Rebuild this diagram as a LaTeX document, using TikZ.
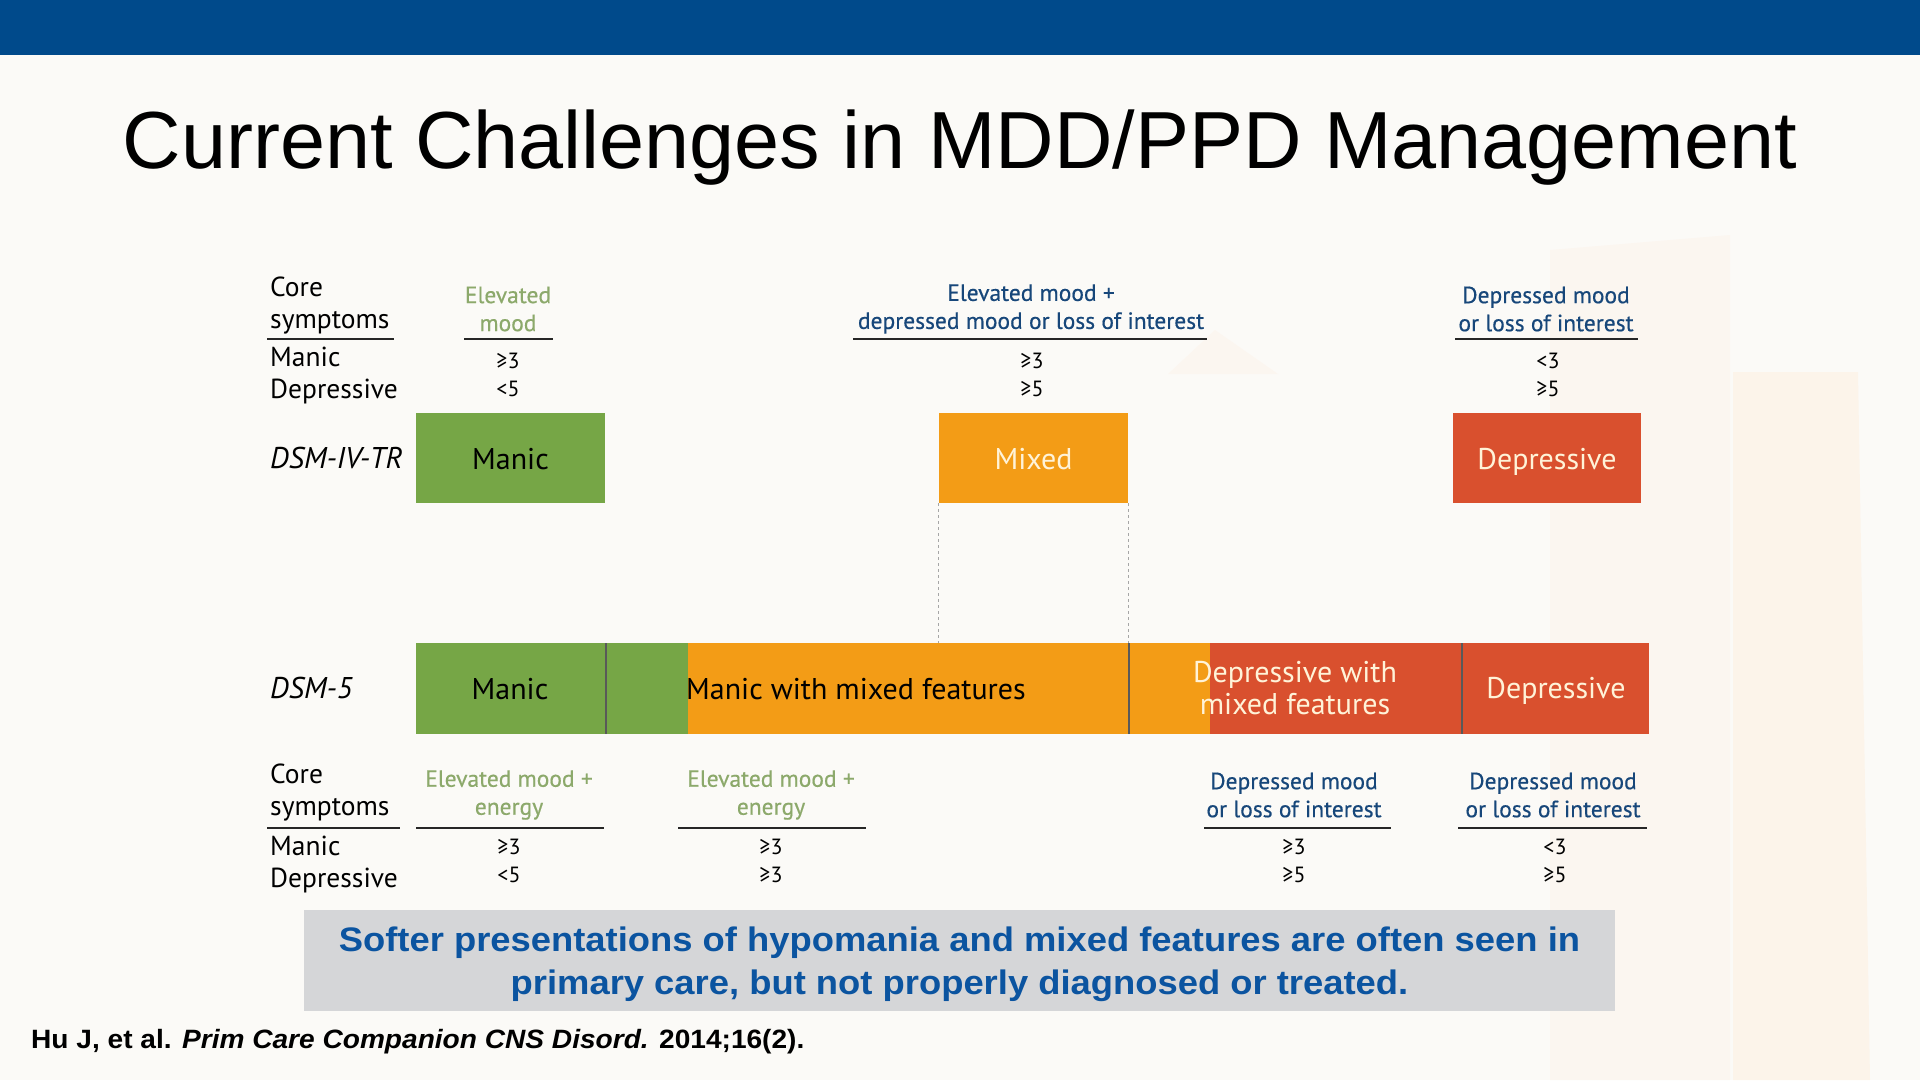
\documentclass[tikz,border=0pt]{standalone}
\usepackage{fontspec}
\setmainfont{PT Sans}
\newfontfamily\arialf{Liberation Sans}
\newfontfamily\msgfont{Liberation Sans}[FakeStretch=1.07]
\newfontfamily\citefont{Liberation Sans}[FakeStretch=1.06]
\newfontfamily\semib{PT Sans}[FakeBold=0.45]
\definecolor{topbar}{HTML}{004A8B}
\definecolor{bg}{HTML}{FBFAF7}
\definecolor{wm}{HTML}{FCF4EA}
\definecolor{wmb}{HTML}{FBF6F0}
\definecolor{mgreen}{HTML}{76A646}
\definecolor{morange}{HTML}{F39C16}
\definecolor{mred}{HTML}{D9502E}
\definecolor{tgreen}{HTML}{8CA96B}
\definecolor{tblue}{HTML}{17477A}
\definecolor{cream}{HTML}{FFF3D8}
\definecolor{graybox}{HTML}{D5D6D8}
\definecolor{msgblue}{HTML}{0B54A0}
\tikzset{
  lbl/.style={font=\fontsize{27.5}{32}\selectfont, align=left, anchor=west, inner sep=0pt},
  hdr/.style={font=\semib\fontsize{23.5}{28}\selectfont, align=center, inner sep=0pt},
  val/.style={font=\fontsize{22}{28}\selectfont, align=center, inner sep=0pt},
  btxt/.style={font=\fontsize{30}{32}\selectfont, text height=26pt, text depth=3pt},
  cbox/.style={minimum height=90pt, inner sep=0pt, btxt},
  seg/.style={minimum height=91pt, inner sep=0pt},
  rulel/.style={line width=2pt, black!85},
  divider/.style={line width=1.6pt, black!65},
  guide/.style={dashed, line width=1pt, black!35},
}
\begin{document}
\begin{tikzpicture}[x=1pt,y=-1pt]
\useasboundingbox (0,0) rectangle (1920,1080);
\fill[bg] (0,0) rectangle (1920,1080);
% faint watermark
\fill[wmb] (1550,250) -- (1730,235) -- (1730,1080) -- (1550,1080) -- cycle;
\fill[wm] (1733,372) -- (1858,372) -- (1870,1080) -- (1733,1080) -- cycle;
\fill[wmb] (1168,374) -- (1215,330) -- (1278,374) -- cycle;
% top bar
\fill[topbar] (0,0) rectangle (1920,55);
% title
\node[font=\arialf\fontsize{81}{90}\selectfont, inner sep=0pt] (title) at (960,148) {Current Challenges in MDD/PPD Management};

% ---- DSM-IV-TR header block
\node[lbl] (core1) at (270,306) {Core\\symptoms};
\draw[rulel] (267,339) -- (394,339);
\node[lbl] (md1) at (270,376) {Manic\\Depressive};
\node[hdr, text=tgreen] (h1a) at (508,309) {Elevated\\mood};
\draw[rulel] (464,339) -- (553,339);
\node[val] (v1a) at (508,375) {≥3\\<5};
\node[hdr, text=tblue] (h1b) at (1031,309) {Elevated mood +\\depressed mood or loss of interest};
\draw[rulel] (853,339) -- (1207,339);
\node[val] (v1b) at (1032,375) {≥3\\≥5};
\node[hdr, text=tblue] (h1c) at (1546,309) {Depressed mood\\or loss of interest};
\draw[rulel] (1455,339) -- (1638,339);
\node[val] (v1c) at (1548,375) {<3\\≥5};

\node[lbl, font=\itshape\fontsize{30}{32}\selectfont] (dsm4) at (270,458) {DSM-IV-TR};
\node[cbox, fill=mgreen, minimum width=189pt, text=black] (manic4) at (510.5,458) {Manic};
\node[cbox, fill=morange, minimum width=189pt, text=cream] (mixed4) at (1033.5,458) {Mixed};
\node[cbox, fill=mred, minimum width=188pt, text=cream] (dep4) at (1547,458) {Depressive};

% ---- DSM-5 bar
\node[lbl, font=\itshape\fontsize{30}{32}\selectfont] (dsm5) at (270,688) {DSM-5};
\node[seg, fill=mgreen, minimum width=272pt] (barG) at (552,688.5) {};
\node[seg, fill=morange, minimum width=522pt] (barO) at (949,688.5) {};
\node[seg, fill=mred, minimum width=439pt] (barR) at (1429.5,688.5) {};
\draw[divider] (606,643) -- (606,734);
\draw[divider] (1129,643) -- (1129,734);
\draw[divider] (1462,643) -- (1462,734);
\node[btxt, inner sep=0pt] (m5) at (510,688) {Manic};
\node[btxt, inner sep=0pt, anchor=west] (mm5) at (686,688) {Manic with mixed features};
\node[font=\fontsize{30}{32}\selectfont, inner sep=0pt, align=center, text=cream] (dm5) at (1295,688) {Depressive with\\mixed features};
\node[btxt, inner sep=0pt, text=cream] (d5) at (1556,687) {Depressive};

% dashed guides
\coordinate (g1) at (mixed4.south west |- barO.north);
\coordinate (g2) at (mixed4.south east |- barO.north);
\draw[guide] (mixed4.south west) -- (g1);
\draw[guide] (mixed4.south east) -- (g2);

% ---- DSM-5 lower block
\node[lbl] (core2) at (270,793) {Core\\symptoms};
\draw[rulel] (267,828) -- (400,828);
\node[lbl] (md2) at (270,864) {Manic\\Depressive};
\node[hdr, text=tgreen] (h2a) at (509,795) {Elevated mood +\\energy};
\draw[rulel] (416,828) -- (604,828);
\node[val] (v2a) at (509,861) {≥3\\<5};
\node[hdr, text=tgreen] (h2b) at (771,795) {Elevated mood +\\energy};
\draw[rulel] (678,828) -- (866,828);
\node[val] (v2b) at (771,861) {≥3\\≥3};
\node[hdr, text=tblue] (h2c) at (1294,795) {Depressed mood\\or loss of interest};
\draw[rulel] (1204,828) -- (1391,828);
\node[val] (v2c) at (1294,861) {≥3\\≥5};
\node[hdr, text=tblue] (h2d) at (1553,795) {Depressed mood\\or loss of interest};
\draw[rulel] (1458,828) -- (1647,828);
\node[val] (v2d) at (1555,861) {<3\\≥5};

% ---- message box
\node[fill=graybox, minimum width=1311pt, minimum height=101pt, inner sep=0pt] (msgbox) at (959.5,960.5) {};
\node[font=\msgfont\bfseries\fontsize{34}{43}\selectfont, text=msgblue, align=center, inner sep=0pt] (msg) at (959.5,964) {Softer presentations of hypomania and mixed features are often seen in\\primary care, but not properly diagnosed or treated.};

% citation
\node[font=\citefont\bfseries\fontsize{26.5}{30}\selectfont, anchor=west, inner sep=0pt] (cite) at (31,1042) {Hu J, et al. \textit{Prim Care Companion CNS Disord.} 2014;16(2).};
\end{tikzpicture}
\end{document}
